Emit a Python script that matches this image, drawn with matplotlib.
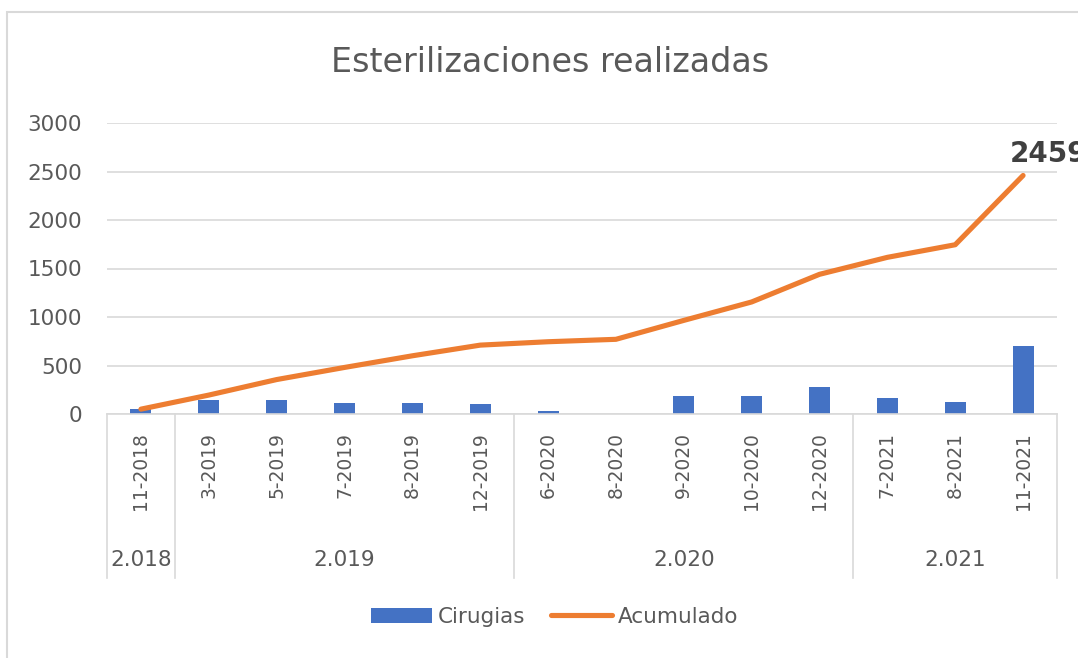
import matplotlib
matplotlib.use("Agg")
import matplotlib.pyplot as plt
import matplotlib.transforms as mtransforms
from matplotlib.patches import Rectangle, Patch
from matplotlib.lines import Line2D

# ---- data ----
months = ["11-2018", "3-2019", "5-2019", "7-2019", "8-2019", "12-2019",
          "6-2020", "8-2020", "9-2020", "10-2020", "12-2020",
          "7-2021", "8-2021", "11-2021"]
years = ["2.018", "2.019", "2.020", "2.021"]
year_counts = [1, 5, 5, 3]
cirugias = [50, 145, 145, 115, 115, 100, 35, 0, 190, 190, 280, 160, 120, 700]
acumulado = [50, 195, 355, 480, 600, 710, 745, 770, 965, 1155, 1440, 1615, 1745, 2459]
yticks = [0, 500, 1000, 1500, 2000, 2500, 3000]

W, H = 1078, 658
fig = plt.figure(figsize=(W / 100, H / 100), dpi=100)
fig.patch.set_facecolor("white")

# outer chart border (left and top visible)
fig.add_artist(Rectangle((7 / W, -0.05), 1.2, 1 - 12 / H + 0.05,
                         transform=fig.transFigure, fill=False,
                         edgecolor="#d9d9d9", linewidth=1.5))

ax_left, ax_right, ax_top, ax_bot = 107, 1057, 123, 414
ax = fig.add_axes([ax_left / W, 1 - ax_bot / H, (ax_right - ax_left) / W,
                   (ax_bot - ax_top) / H])

txt = "#595959"
grid = "#d9d9d9"
x = list(range(len(months)))

ax.bar(x, cirugias, width=0.31, color="#4472C4", zorder=2, label="Cirugias")
ax.plot(x, acumulado, color="#ED7D31", linewidth=3.7, solid_capstyle="round",
        solid_joinstyle="round", zorder=3, label="Acumulado")

ax.set_xlim(-0.5, len(months) - 0.5)
ax.set_ylim(0, 3000)
ax.set_yticks(yticks)
ax.set_yticklabels([str(v) for v in yticks], fontsize=15.5, color=txt)
ax.tick_params(axis="y", length=0, pad=18)
ax.yaxis.grid(True, color=grid, linewidth=1.2, zorder=0)
ax.set_axisbelow(True)
for s in ["top", "right", "left"]:
    ax.spines[s].set_visible(False)
ax.spines["bottom"].set_color(grid)
ax.spines["bottom"].set_linewidth(1.2)

ax.set_xticks(x)
ax.set_xticklabels(months, rotation=90, fontsize=13.5, color=txt)
ax.tick_params(axis="x", length=0, pad=13)

# multi-level category axis
trans = mtransforms.blended_transform_factory(ax.transData, ax.transAxes)
ax_h = ax_bot - ax_top
y_low = (ax_bot - 578) / ax_h
bounds = [-0.5]
for c in year_counts:
    bounds.append(bounds[-1] + c)
for b in bounds:
    ax.plot([b, b], [0, y_low], transform=trans, color=grid, linewidth=1.2,
            clip_on=False)
y_year = (ax_bot - 560) / ax_h
for i, yl in enumerate(years):
    cx = (bounds[i] + bounds[i + 1]) / 2
    ax.text(cx, y_year, yl, transform=trans, ha="center", va="center",
            fontsize=15.5, color=txt)

# data label for last point
ax.annotate(str(acumulado[-1]), xy=(x[-1], acumulado[-1]),
            xytext=(-13, 7), textcoords="offset pixels", ha="left",
            va="bottom", fontsize=20, fontweight="bold", color="#404040",
            annotation_clip=False)

fig.text(550 / W, 1 - 62 / H, "Esterilizaciones realizadas", ha="center",
         va="center", fontsize=24, color=txt)

handles = [Patch(facecolor="#4472C4", edgecolor="none", label="Cirugias"),
           Line2D([0], [0], color="#ED7D31", linewidth=3.7,
                  solid_capstyle="round", label="Acumulado")]
fig.legend(handles=handles, loc="center", bbox_to_anchor=(555 / W, 1 - 617 / H),
           ncol=2, frameon=False, fontsize=15.5, handlelength=2.8,
           handletextpad=0.3, columnspacing=1.2, labelcolor=txt)

fig.savefig("out.png", dpi=100, facecolor="white")
